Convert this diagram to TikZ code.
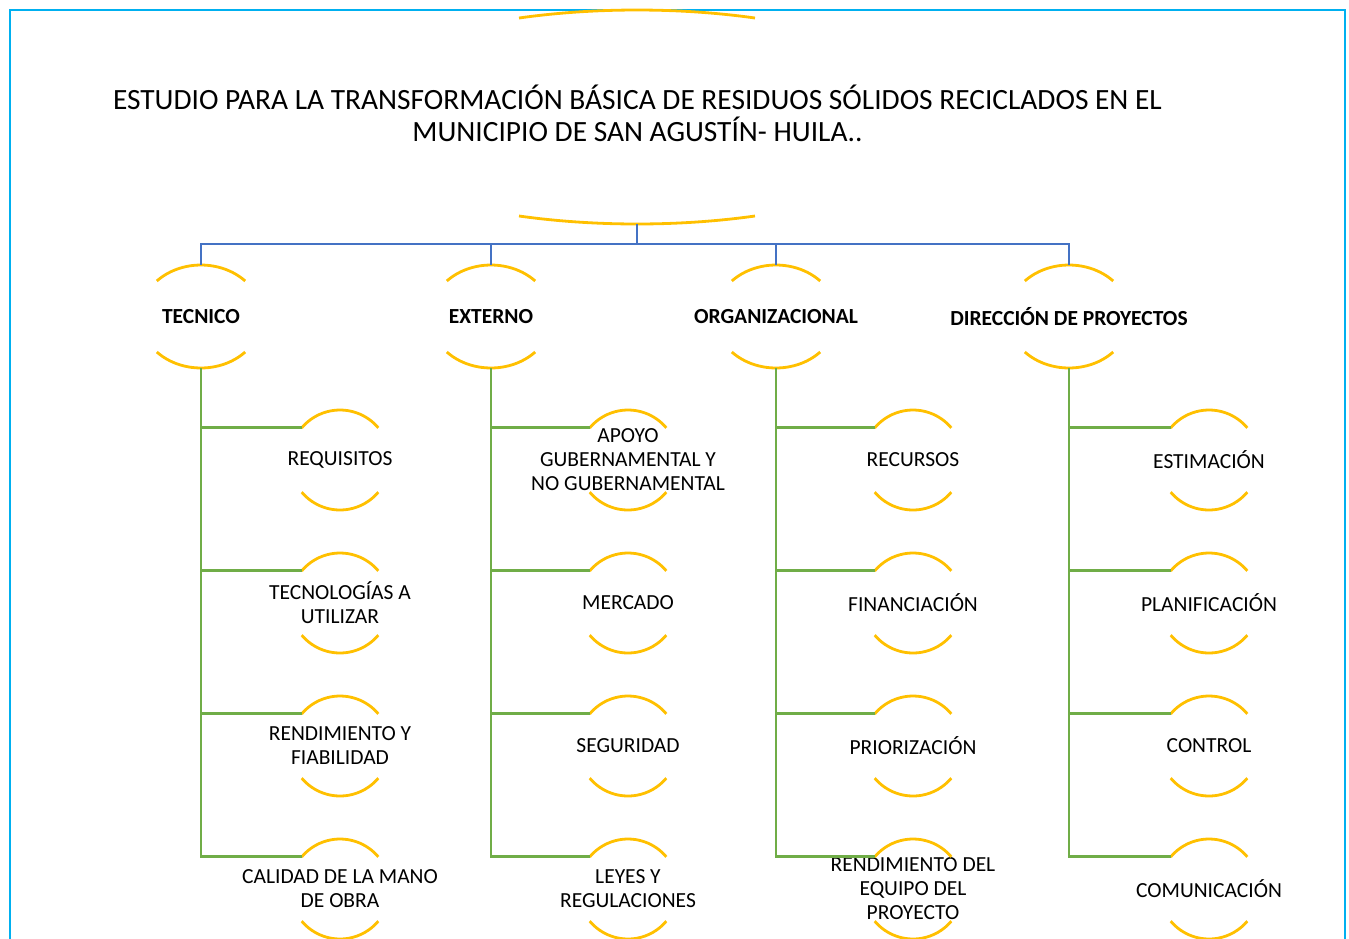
\documentclass[tikz,border=0pt]{standalone}
\usepackage{fontspec}
\setmainfont{Carlito}
\definecolor{yel}{HTML}{FFC000}
\definecolor{blu}{HTML}{4472C4}
\definecolor{grn}{HTML}{70AD47}
\definecolor{frm}{HTML}{00B0F0}
\tikzset{
  yarc/.style={draw=yel,line width=2.8pt},
  blueline/.style={draw=blu,line width=2.8pt},
  greenline/.style={draw=grn,line width=2.8pt},
  framebox/.style={draw=frm,line width=2pt},
  leaf/.style={rectangle,minimum height=100pt,inner sep=0pt,outer sep=0pt,align=center,font=\fontsize{21.5}{24}\selectfont},
  cat/.style={rectangle,minimum height=103pt,inner sep=0pt,outer sep=0pt,align=center,font=\fontsize{21.5}{24}\selectfont\bfseries},
  titlebox/.style={rectangle,minimum height=214pt,inner sep=0pt,outer sep=0pt,align=center,font=\fontsize{29.4}{32}\selectfont}
}
\begin{document}
\begin{tikzpicture}[x=1pt,y=1pt]
\useasboundingbox (0,0) rectangle (1349,-938);
\fill[white] (0,0) rectangle (1349,-938);
\draw[framebox] (10,-960) |- (1345,-9.5) -- (1345,-960);
% title
\node[titlebox] (title) at (637,-117) {};
\node[font=\fontsize{29.4}{32}\selectfont,align=center,inner sep=0pt] (titletext) at (637.5,-113) {ESTUDIO PARA LA TRANSFORMACIÓN BÁSICA DE RESIDUOS SÓLIDOS RECICLADOS EN EL\\MUNICIPIO DE SAN AGUSTÍN- HUILA..};
\draw[yarc] ([shift={(67.7:311pt and 107pt)}]title.center) arc[start angle=67.7,end angle=112.3,x radius=311pt,y radius=107pt];
\draw[yarc] ([shift={(247.7:311pt and 107pt)}]title.center) arc[start angle=247.7,end angle=292.3,x radius=311pt,y radius=107pt];
% categories
\node[cat] (c1) at (201,-316.5) {TECNICO};
\node[cat] (c2) at (491,-316.5) {EXTERNO};
\node[cat] (c3) at (776,-316.5) {ORGANIZACIONAL};
\node[cat] (c4) at (1069,-316.5) {DIRECCIÓN DE PROYECTOS};
\foreach \n in {c1,c2,c3,c4}{
  \draw[yarc] ([shift={(43.6:61pt and 51.5pt)}]\n.center) arc[start angle=43.6,end angle=136.4,x radius=61pt,y radius=51.5pt];
  \draw[yarc] ([shift={(223.6:61pt and 51.5pt)}]\n.center) arc[start angle=223.6,end angle=316.4,x radius=61pt,y radius=51.5pt];
}
\coordinate (hub) at ([yshift=-20pt]title.south);
\draw[blueline] (title.south) -- (hub);
\foreach \n in {c1,c2,c3,c4}{\draw[blueline] (hub) -| (\n.north);}
% leaves
\node[leaf] (l11) at (340,-460) {REQUISITOS};
\node[leaf] (l12) at (340,-603) {TECNOLOGÍAS A\\UTILIZAR};
\node[leaf] (l13) at (340,-746) {RENDIMIENTO Y\\FIABILIDAD};
\node[leaf] (l14) at (340,-889) {CALIDAD DE LA MANO\\DE OBRA};
\node[leaf] (l21) at (628,-460) {APOYO\\GUBERNAMENTAL Y\\NO GUBERNAMENTAL};
\node[leaf] (l22) at (628,-603) {MERCADO};
\node[leaf] (l23) at (628,-746) {SEGURIDAD};
\node[leaf] (l24) at (628,-889) {LEYES Y\\REGULACIONES};
\node[leaf] (l31) at (913,-460) {RECURSOS};
\node[leaf] (l32) at (913,-603) {FINANCIACIÓN};
\node[leaf] (l33) at (913,-746) {PRIORIZACIÓN};
\node[leaf] (l34) at (913,-889) {RENDIMIENTO DEL\\EQUIPO DEL\\PROYECTO};
\node[leaf] (l41) at (1209,-460) {ESTIMACIÓN};
\node[leaf] (l42) at (1209,-603) {PLANIFICACIÓN};
\node[leaf] (l43) at (1209,-746) {CONTROL};
\node[leaf] (l44) at (1209,-889) {COMUNICACIÓN};
\foreach \c in {1,2,3,4}{
  \foreach \r in {1,2,3,4}{
    \draw[yarc] ([shift={(40:50pt)}]l\c\r.center) arc[start angle=40,end angle=140,radius=50pt];
    \draw[yarc] ([shift={(220:50pt)}]l\c\r.center) arc[start angle=220,end angle=320,radius=50pt];
    \draw[greenline] (c\c.south) |- ([shift={(140:50pt)}]l\c\r.center);
  }
}
\end{tikzpicture}
\end{document}
